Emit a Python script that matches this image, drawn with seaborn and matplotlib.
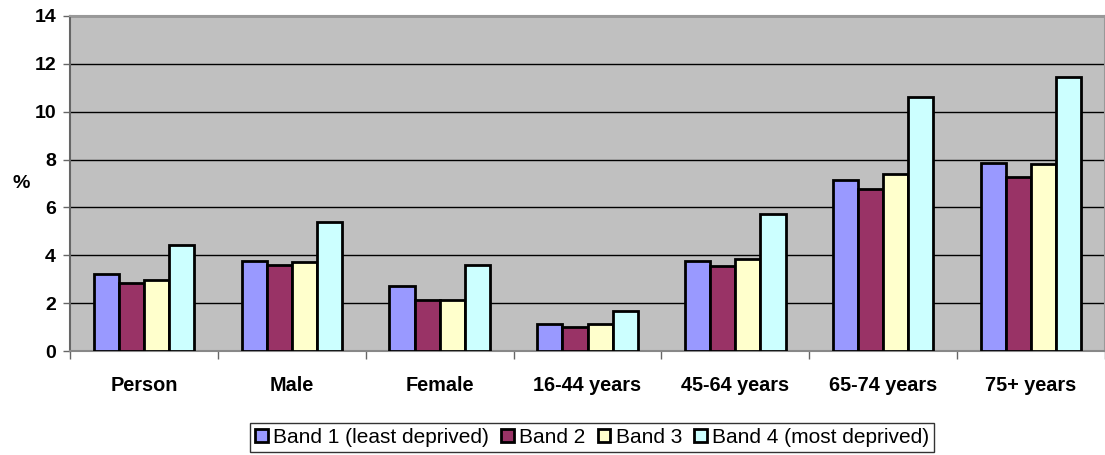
import pandas as pd
import numpy as np
import matplotlib.pyplot as plt
import seaborn as sns
from matplotlib.ticker import FixedLocator

categorias = ['Person', 'Male', 'Female', '16-44 years', '45-64 years',
              '65-74 years', '75+ years']
bandas = ['Band 1 (least deprived)', 'Band 2', 'Band 3',
          'Band 4 (most deprived)']

band1 = [3.2, 3.76, 2.71, 1.12, 3.77, 7.13, 7.85]
band2 = [2.85, 3.59, 2.15, 1.02, 3.55, 6.75, 7.29]
band3 = [2.95, 3.74, 2.15, 1.13, 3.86, 7.39, 7.81]
band4 = [4.45, 5.39, 3.59, 1.68, 5.73, 10.62, 11.47]

colores = ['#9999FF', '#993366', '#FFFFCC', '#CCFFFF']

filas = []
for banda, valores in zip(bandas, [band1, band2, band3, band4]):
    for cat, v in zip(categorias, valores):
        filas.append({'categoria': cat, 'banda': banda, 'valor': v})
df = pd.DataFrame(filas)

sns.set_theme(style='white')
plt.rcParams['font.family'] = ['Liberation Sans', 'DejaVu Sans']
plt.rcParams['text.color'] = 'black'
plt.rcParams['xtick.color'] = 'black'
plt.rcParams['ytick.color'] = 'black'
plt.rcParams['axes.labelcolor'] = 'black'

fig = plt.figure(figsize=(11.05, 4.55), dpi=100)
ax = fig.add_axes([70 / 1105, 1 - 351 / 455, 1 - 70 / 1105, (351 - 16) / 455])

sns.barplot(data=df, x='categoria', y='valor', hue='banda',
            palette=colores, saturation=1, width=0.68, gap=0,
            edgecolor='black', linewidth=2, errorbar=None, ax=ax, zorder=3)

ax.set_facecolor('#C0C0C0')
ax.set_ylim(0, 14)
ax.set_xlim(-0.5, len(categorias) - 0.5)
ax.set_yticks(np.arange(0, 15, 2))
ax.grid(axis='y', color='black', linewidth=1, zorder=1)
ax.set_axisbelow(True)

for lado in ['top', 'right']:
    ax.spines[lado].set_color('#999999')
    ax.spines[lado].set_linewidth(1.5)
ax.spines['left'].set_color('#666666')
ax.spines['left'].set_linewidth(1.5)
ax.spines['bottom'].set_color('#888888')
ax.spines['bottom'].set_linewidth(1.5)

ax.set_xlabel('')
ax.set_ylabel('%', fontsize=14, fontweight='bold', rotation=0, va='center')
ax.yaxis.set_label_coords(-0.047, 0.5)

ax.tick_params(axis='y', labelsize=14, length=5, width=1, color='#666666',
               left=True, pad=5)
for t in ax.get_yticklabels():
    t.set_fontweight('bold')
ax.tick_params(axis='x', which='major', length=0, labelsize=14.3, pad=18)
for t in ax.get_xticklabels():
    t.set_fontweight('bold')
ax.xaxis.set_minor_locator(FixedLocator(np.arange(-0.5, len(categorias), 1)))
ax.tick_params(axis='x', which='minor', length=6, width=1,
               color='#666666', bottom=True)

handles, labels = ax.get_legend_handles_labels()
ax.legend_.remove()
leg = fig.legend(handles, labels, loc='lower center',
                 bbox_to_anchor=(0.536, 0.006), ncol=4, fontsize=15,
                 frameon=True, fancybox=False, edgecolor='black',
                 handlelength=0.6, handleheight=0.6, handletextpad=0.25,
                 columnspacing=0.6, borderpad=0.25, borderaxespad=0)
leg.get_frame().set_linewidth(1)

fig.savefig('out.png', dpi=100)
